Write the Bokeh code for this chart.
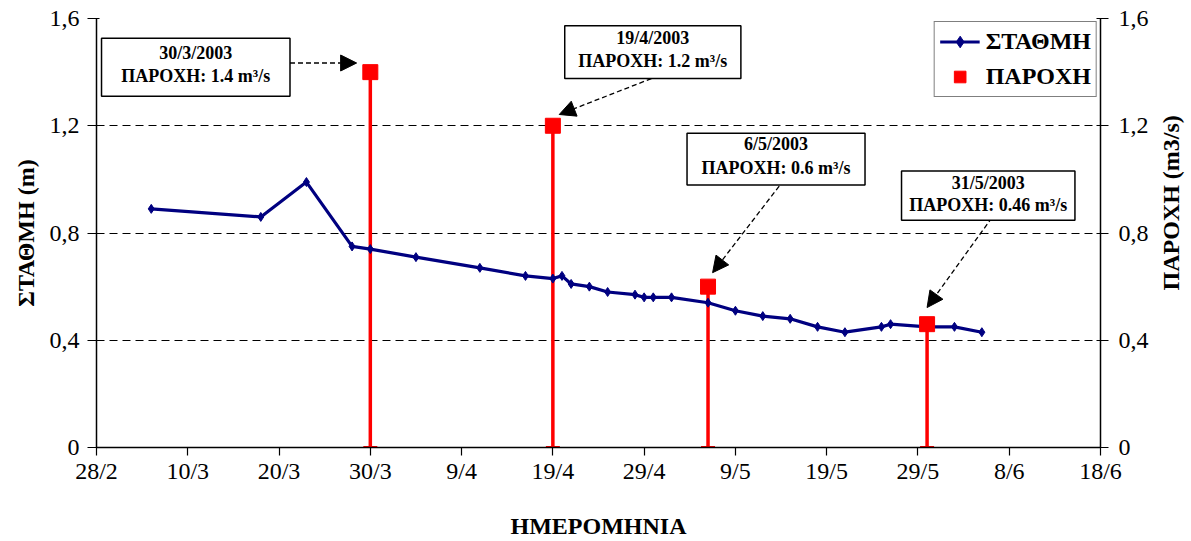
import math
import pandas as pd
from bokeh.plotting import figure
from bokeh.layouts import row
from bokeh.core.properties import value
from bokeh.models import (ColumnDataSource, Range1d, LinearAxis, FixedTicker, CustomJSTickFormatter,
                          Legend, LegendItem, Whisker, TeeHead, BoxAnnotation, Label, Arrow, NormalHead)
from bokeh.embed import file_html
from bokeh.resources import INLINE

# ---------------- data ----------------
level_dates = ["2003-03-06", "2003-03-18", "2003-03-23", "2003-03-28", "2003-03-30", "2003-04-04",
               "2003-04-11", "2003-04-16", "2003-04-19", "2003-04-20", "2003-04-21", "2003-04-23",
               "2003-04-25", "2003-04-28", "2003-04-29", "2003-04-30", "2003-05-02", "2003-05-06",
               "2003-05-09", "2003-05-12", "2003-05-15", "2003-05-18", "2003-05-21", "2003-05-25",
               "2003-05-26", "2003-05-30", "2003-06-02", "2003-06-05"]
level_values = [0.89, 0.86, 0.99, 0.75, 0.74, 0.71, 0.67, 0.64, 0.63, 0.64, 0.61, 0.60,
                0.58, 0.57, 0.56, 0.56, 0.56, 0.54, 0.51, 0.49, 0.48, 0.45, 0.43, 0.45,
                0.46, 0.45, 0.45, 0.43]

flow_dates = ["2003-03-30", "2003-04-19", "2003-05-06", "2003-05-30"]
flow_values = [1.4, 1.2, 0.6, 0.46]
flow_date_labels = ["30/3/2003", "19/4/2003", "6/5/2003", "31/5/2003"]

x_tick_dates = ["2003-02-28", "2003-03-10", "2003-03-20", "2003-03-30", "2003-04-09", "2003-04-19",
                "2003-04-29", "2003-05-09", "2003-05-19", "2003-05-29", "2003-06-08", "2003-06-18"]
y_ticks = [0, 0.4, 0.8, 1.2, 1.6]

x_title = "ΗΜΕΡΟΜΗΝΙΑ"
y_left_title = "ΣΤΑΘΜΗ (m)"
y_right_title = "ΠΑΡΟΧΗ (m3/s)"
level_name = "ΣΤΑΘΜΗ"
flow_name = "ΠΑΡΟΧΗ"

# ---------------- layout of callouts (day offset from axis start, value) ----------------
callouts = [
    dict(box=(0.55, 21.2, 1.310, 1.526), lines=(1.471, 1.387), start=(21.2, 1.434), end=(28.5, 1.434)),
    dict(box=(51.3, 70.6, 1.376, 1.573), lines=(1.529, 1.443), start=(60.8, 1.376), end=(50.7, 1.242)),
    dict(box=(64.7, 84.2, 0.979, 1.172), lines=(1.131, 1.043), start=(74.8, 0.975), end=(67.5, 0.652)),
    dict(box=(88.2, 107.2, 0.848, 1.031), lines=(0.987, 0.903), start=(98.1, 0.857), end=(91.0, 0.522)),
]

W, H = 1191, 541
SIDE_W = 40            # narrow strip on the right holding the right-hand title
TOP, BOTTOM = 18, 94   # frame borders (px)

FONT = "Liberation Serif"
base = pd.Timestamp(x_tick_dates[0])


def ms(ts):
    return pd.Timestamp(ts).value / 1e6


def day_ms(d):
    return ms(base + pd.Timedelta(days=d))


level_src = ColumnDataSource(dict(x=pd.to_datetime(level_dates), y=level_values))
flow_src = ColumnDataSource(dict(x=pd.to_datetime(flow_dates), y=flow_values,
                                 zero=[0.0] * len(flow_values)))

p = figure(width=W - SIDE_W, height=H, x_axis_type="datetime", output_backend="svg",
           toolbar_location=None,
           x_range=Range1d(ms(x_tick_dates[0]), ms(x_tick_dates[-1])),
           y_range=Range1d(y_ticks[0], y_ticks[-1]))
p.extra_y_ranges = {"q": Range1d(y_ticks[0], y_ticks[-1])}
p.min_border_left = 96
p.min_border_right = 49
p.min_border_top = TOP
p.min_border_bottom = BOTTOM
p.outline_line_color = None
p.background_fill_color = "white"
p.border_fill_color = "white"

fmt_y = CustomJSTickFormatter(code="return tick == 0 ? '0' : tick.toFixed(1).replace('.', ',');")
fmt_x = CustomJSTickFormatter(code="const d = new Date(tick); return d.getUTCDate() + '/' + (d.getUTCMonth() + 1);")


def style_axis(ax):
    ax.axis_line_color = "black"
    ax.axis_line_width = 1.5
    ax.major_tick_line_color = "black"
    ax.major_tick_line_width = 1.2
    ax.minor_tick_line_color = None
    ax.major_label_text_font = FONT
    ax.major_label_text_font_size = "24px"
    ax.major_label_text_color = "black"
    ax.axis_label_text_font = FONT
    ax.axis_label_text_font_style = "bold"
    ax.axis_label_text_font_size = "24px"
    ax.axis_label_text_color = "black"


xa = p.xaxis[0]
xa.ticker = FixedTicker(ticks=[ms(t) for t in x_tick_dates])
xa.formatter = fmt_x
style_axis(xa)
xa.major_tick_out = 8
xa.major_tick_in = 0
xa.major_label_standoff = 2
xa.axis_label = x_title
xa.axis_label_standoff = 26

ya = p.yaxis[0]
ya.ticker = FixedTicker(ticks=y_ticks)
ya.formatter = fmt_y
style_axis(ya)
ya.major_tick_out = 9
ya.major_tick_in = 3
ya.major_label_standoff = 8
ya.axis_label = y_left_title
ya.axis_label_standoff = 8

yr = LinearAxis(y_range_name="q", ticker=FixedTicker(ticks=y_ticks), formatter=fmt_y)
style_axis(yr)
yr.major_tick_out = 8
yr.major_tick_in = 4
yr.major_label_standoff = 10
p.add_layout(yr, "right")

p.xgrid.grid_line_color = None
p.ygrid.ticker = FixedTicker(ticks=y_ticks)
p.ygrid.grid_line_color = "black"
p.ygrid.grid_line_width = 1
p.ygrid.grid_line_dash = "8 5"

# level line
ln = p.line("x", "y", source=level_src, line_color="#000080", line_width=3.2)
mk = p.scatter("x", "y", source=level_src, marker="diamond", size=9,
               fill_color="#000080", line_color="#000080")

# flow: vertical lines with a cap at zero, then squares
wh = Whisker(base="x", lower="zero", upper="y", source=flow_src, dimension="height",
             y_range_name="q", line_color="#FF0000", line_width=3.5,
             upper_head=None,
             lower_head=TeeHead(size=14, line_color="#FF0000", line_width=3))
p.add_layout(wh)
sq = p.scatter("x", "y", source=flow_src, marker="square", size=15, y_range_name="q",
               fill_color="#FF0000", line_color="#FF0000")

# callouts
for c, lab, val in zip(callouts, flow_date_labels, flow_values):
    x0, x1, y0, y1 = c["box"]
    p.add_layout(BoxAnnotation(left=day_ms(x0), right=day_ms(x1), bottom=y0, top=y1,
                               fill_color="white", fill_alpha=1.0,
                               line_color="black", line_alpha=1.0, line_width=1.5, level="overlay"))
    xc = day_ms((x0 + x1) / 2)
    for txt, yy in zip([lab, f"ΠΑΡΟΧΗ: {val} m³/s"], c["lines"]):
        p.add_layout(Label(x=xc, y=yy, text=txt, text_align="center", text_baseline="middle",
                           text_font=FONT, text_font_style="bold", text_font_size="18px",
                           text_color="black", level="overlay"))
    p.add_layout(Arrow(x_start=day_ms(c["start"][0]), y_start=c["start"][1],
                       x_end=day_ms(c["end"][0]), y_end=c["end"][1],
                       line_color="black", line_width=1.3, line_dash="5 3",
                       end=NormalHead(size=16, fill_color="black", line_color="black", line_width=1)))

legend = Legend(items=[LegendItem(label=level_name, renderers=[ln, mk]),
                       LegendItem(label=flow_name, renderers=[sq])],
                location="top_right")
legend.margin = 3
legend.padding = 5
legend.spacing = 6
legend.glyph_width = 40
legend.glyph_height = 29
legend.label_height = 29
legend.label_standoff = 6
legend.label_text_font = FONT
legend.label_text_font_style = "bold"
legend.label_text_font_size = "24px"
legend.label_text_color = "black"
legend.border_line_color = "black"
legend.border_line_width = 1.5
legend.background_fill_alpha = 1.0
p.add_layout(legend)

# right-hand title strip (text reads bottom to top)
side = figure(width=SIDE_W, height=H, output_backend="svg", toolbar_location=None,
              x_range=Range1d(0, SIDE_W), y_range=Range1d(0, H),
              x_axis_location=None, y_axis_location=None, min_border=0)
side.grid.visible = False
side.outline_line_color = None
side.background_fill_color = "white"
side.border_fill_color = "white"
side.text(x=[SIDE_W / 2 - 1], y=[H - (TOP + (H - BOTTOM)) / 2], text=[y_right_title],
          angle=math.pi / 2, text_align="center", text_baseline="middle",
          text_font=value(FONT), text_font_style="bold", text_font_size="24px", text_color="black")

layout = row(p, side, spacing=0)
open("out.html", "w").write(file_html(layout, INLINE))
